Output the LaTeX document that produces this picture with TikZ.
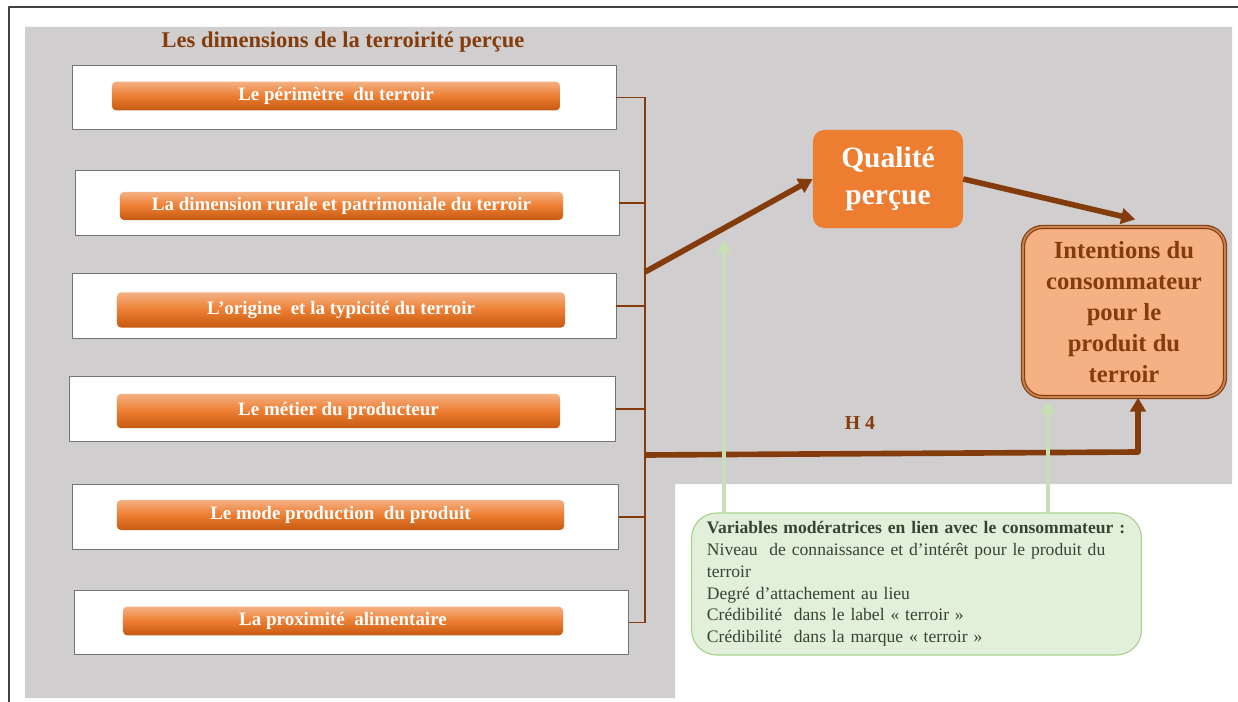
\documentclass[tikz,border=0pt]{standalone}
\usepackage{fontspec}
\setmainfont{Liberation Serif}
\usetikzlibrary{arrows.meta}

\definecolor{bggray}{HTML}{D0CECE}
\definecolor{brownline}{HTML}{843C0C}
\definecolor{orangemain}{HTML}{ED7D31}
\definecolor{orangelight}{HTML}{F4B183}
\definecolor{orangedark}{HTML}{C55A11}
\definecolor{greenfill}{HTML}{E2EFDA}
\definecolor{greenedge}{HTML}{A9D18E}
\definecolor{greenarrow}{HTML}{C5E0B4}
\definecolor{greentext}{RGB}{55,68,50}

\tikzset{
  dimbox/.style={draw=black!55, fill=white, line width=0.6pt, minimum width=13.6cm, minimum height=1.62cm},
  dimbar/.style={rounded corners=3pt, top color=orangelight, bottom color=orangedark, middle color=orangemain,
    minimum width=11.2cm, minimum height=0.75cm, text=white, font=\fontsize{13.5}{16}\selectfont\bfseries},
  stub/.style={brownline, line width=1.4pt},
  bigarrow/.style={brownline, line width=4pt, -{Triangle[length=10pt,width=11pt]}},
  modarrow/.style={greenarrow, line width=2.5pt, -{Triangle[length=9pt,width=10pt]}},
}

\begin{document}
\begin{tikzpicture}[x=0.025cm, y=-0.025cm, line join=round]
  % Window bounds (pixel grid, y downwards)
  \useasboundingbox (0,0) rectangle (1238,702);

  % Grey background and frame
  \fill[bggray] (25,27) -- (1232,27) -- (1232,484) -- (675,484) -- (675,698) -- (25,698) -- cycle;
  \draw[black!75, line width=1.2pt] (9,702) -- (9,7) -- (1238,7);

  % Title of the block
  \node[font=\fontsize{16}{19}\selectfont\bfseries, text=brownline] (title) at (343,42) {Les dimensions de la terroirité perçue};

  % The six dimensions
  \node[dimbox] (box1) at (344,97.5) {};
  \node[dimbar, minimum height=0.72cm] (bar1) at (336,96) {Le périmètre\ \ du terroir};

  \node[dimbox] (box2) at (347,203) {};
  \node[dimbar, minimum width=11.08cm, minimum height=0.7cm] (bar2) at (341.5,206) {La dimension rurale et patrimoniale du terroir};

  \node[dimbox] (box3) at (344,306) {};
  \node[dimbar, minimum height=0.88cm] (bar3) at (341,310) {L’origine\ \ et la typicité du terroir};

  \node[dimbox, minimum width=13.63cm] (box4) at (342.5,409) {};
  \node[dimbar, minimum width=11.08cm, minimum height=0.86cm] (bar4) at (338.5,411) {Le métier du producteur};

  \node[dimbox, minimum width=13.63cm] (box5) at (345.5,517) {};
  \node[dimbar, minimum width=11.18cm] (bar5) at (340.5,515) {Le mode production\ \ du produit};

  \node[dimbox, minimum width=13.83cm] (box6) at (351.5,622.5) {};
  \node[dimbar, minimum width=11cm, minimum height=0.72cm] (bar6) at (343,621) {La proximité\ \ alimentaire};

  % Spine collecting the dimensions
  \coordinate (spine) at (645,0);
  \draw[stub] (box1.east) -- (box1.east -| spine);
  \draw[stub] (box2.east) -- (box2.east -| spine);
  \draw[stub] (box3.east) -- (box3.east -| spine);
  \draw[stub] (box4.east) -- (box4.east -| spine);
  \draw[stub] (box5.east) -- (box5.east -| spine);
  \draw[stub] (box6.east) -- (box6.east -| spine);
  \draw[stub] (box1.east -| spine) -- (box6.east -| spine);

  % Perceived quality and intentions
  \node[fill=orangemain, rounded corners=8pt, minimum width=3.75cm, minimum height=2.45cm, align=center,
    text=white, font=\fontsize{21}{26}\selectfont\bfseries] (qual) at (888,179) {Qualité\\perçue};
  \node[fill=orangelight, draw=brownline, line width=0.8pt, double=orangelight!60!brownline, double distance=1.4pt,
    rounded corners=14pt, minimum width=5.05cm, minimum height=4.25cm, align=center,
    text=brownline, font=\fontsize{17.5}{22}\selectfont\bfseries] (intent) at (1124,312)
    {Intentions du\\consommateur\\pour le\\produit du\\terroir};

  % Hypotheses
  \coordinate (h1start) at (645,272);
  \draw[bigarrow] (h1start) -- (qual.west);
  \draw[bigarrow] (qual.east) -- ([xshift=8pt,yshift=5pt]intent.north);

  \coordinate (h4start) at (645,455);
  \coordinate (h4turn) at (1138,452);
  \draw[bigarrow] (h4start) -- (h4turn) -- (h4turn |- intent.south);
  \node[font=\fontsize{14}{16}\selectfont\bfseries, text=brownline] (hyp) at (860,423) {H 4};

  % Moderating variables
  \node[fill=greenfill, draw=greenedge, line width=0.8pt, rounded corners=18pt, text width=298pt, inner xsep=11pt,
    minimum height=3.55cm, align=left, text=greentext, font=\fontsize{12.5}{15.5}\selectfont] (moder) at (916.5,584)
    {\textbf{Variables modératrices en lien avec le consommateur :}\\
     Niveau\ \ de connaissance et d’intérêt pour le produit du\\
     terroir\\
     Degré d’attachement au lieu\\
     Crédibilité\ \ dans le label «~terroir~»\\
     Crédibilité\ \ dans la marque «~terroir~»};

  \coordinate (gtip1) at (724,240);
  \coordinate (gtip2) at (1048,401);
  \draw[modarrow] (gtip1 |- moder.north) -- (gtip1);
  \draw[modarrow] (gtip2 |- moder.north) -- (gtip2);
\end{tikzpicture}
\end{document}
